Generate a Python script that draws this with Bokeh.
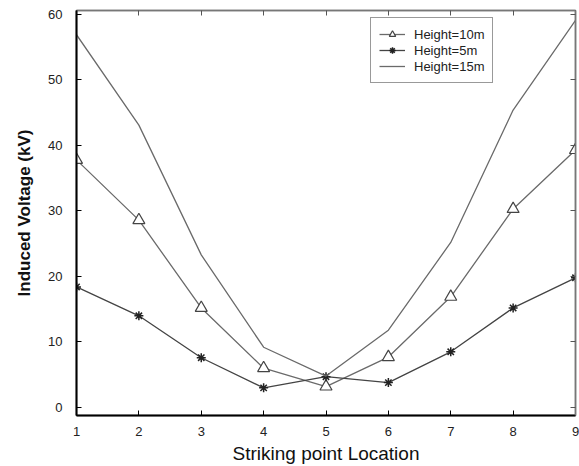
from bokeh.plotting import figure
from bokeh.models import LinearAxis, Range1d, Legend, LegendItem, FixedTicker
from bokeh.embed import file_html
from bokeh.resources import INLINE

locations = [1, 2, 3, 4, 5, 6, 7, 8, 9]
h10 = [37.8, 28.6, 15.2, 6.0, 3.2, 7.7, 16.9, 30.3, 39.3]
h5 = [18.4, 14.0, 7.6, 3.0, 4.7, 3.8, 8.5, 15.2, 19.8]
h15 = [56.9, 43.1, 23.3, 9.2, 4.8, 11.8, 25.2, 45.4, 59.1]
y_ticks = [0, 10, 20, 30, 40, 50, 60]

FONT = "Liberation Sans"

p = figure(width=579, height=466, output_backend="svg", toolbar_location=None,
           x_range=Range1d(1, 9), y_range=Range1d(-1.22, 60.6),
           min_border_left=76, min_border_right=4, min_border_top=10, min_border_bottom=51)
p.grid.visible = False
p.background_fill_color = "white"
p.outline_line_color = "#777777"
p.outline_line_width = 1.5

for ax in [p.xaxis[0], p.yaxis[0]]:
    ax.major_tick_in = 5
    ax.major_tick_out = 0
    ax.minor_tick_line_color = None
    ax.axis_line_color = "black"
    ax.axis_line_width = 2
    ax.major_tick_line_color = "black"
    ax.major_label_text_font = FONT
    ax.major_label_text_font_size = "13px"
    ax.major_label_text_color = "#222222"

p.xaxis.ticker = FixedTicker(ticks=locations)
p.yaxis.ticker = FixedTicker(ticks=y_ticks)
p.xaxis.major_label_standoff = 11
p.yaxis.major_label_standoff = 14
p.xaxis.axis_label = "Striking point Location"
p.xaxis.axis_label_text_font = FONT
p.xaxis.axis_label_text_font_size = "19px"
p.xaxis.axis_label_text_font_style = "normal"
p.xaxis.axis_label_text_color = "#111111"
p.xaxis.axis_label_standoff = 4
p.yaxis.axis_label = "Induced Voltage (kV)"
p.yaxis.axis_label_text_font = FONT
p.yaxis.axis_label_text_font_size = "17px"
p.yaxis.axis_label_text_font_style = "bold"
p.yaxis.axis_label_text_color = "#111111"
p.yaxis.axis_label_standoff = 11

for loc, tk in [("right", y_ticks), ("above", locations)]:
    ax = LinearAxis(ticker=FixedTicker(ticks=tk))
    ax.major_tick_in = 5
    ax.major_tick_out = 0
    ax.minor_tick_line_color = None
    ax.axis_line_color = "#777777"
    ax.axis_line_width = 1.5
    ax.major_tick_line_color = "#555555"
    ax.major_label_text_color = None
    ax.major_label_text_font_size = "1px"
    ax.major_label_standoff = 0
    p.add_layout(ax, loc)

l10 = p.line(locations, h10, line_color="#6a6a6a", line_width=1.3)
m10 = p.scatter(locations, h10, marker="triangle", size=12, fill_color="white",
                line_color="#444444", line_width=1.2)
l5 = p.line(locations, h5, line_color="#444444", line_width=1.3)
m5 = p.scatter(locations, h5, marker="asterisk", size=9, line_color="#222222", line_width=1.5)
l15 = p.line(locations, h15, line_color="#6a6a6a", line_width=1.3)

legend = Legend(items=[
    LegendItem(label="Height=10m", renderers=[l10, m10]),
    LegendItem(label="Height=5m", renderers=[l5, m5]),
    LegendItem(label="Height=15m", renderers=[l15]),
], location=(294, 332))
legend.label_text_font = FONT
legend.label_text_font_size = "13px"
legend.label_text_color = "#222222"
legend.label_height = 16
legend.label_width = 60
legend.label_standoff = 9
legend.glyph_height = 16
legend.glyph_width = 26
legend.spacing = 0
legend.padding = 8
legend.margin = 0
legend.border_line_color = "#333333"
legend.border_line_width = 1.5
legend.background_fill_alpha = 1
p.add_layout(legend, "center")

open("out.html", "w").write(file_html(p, INLINE))
